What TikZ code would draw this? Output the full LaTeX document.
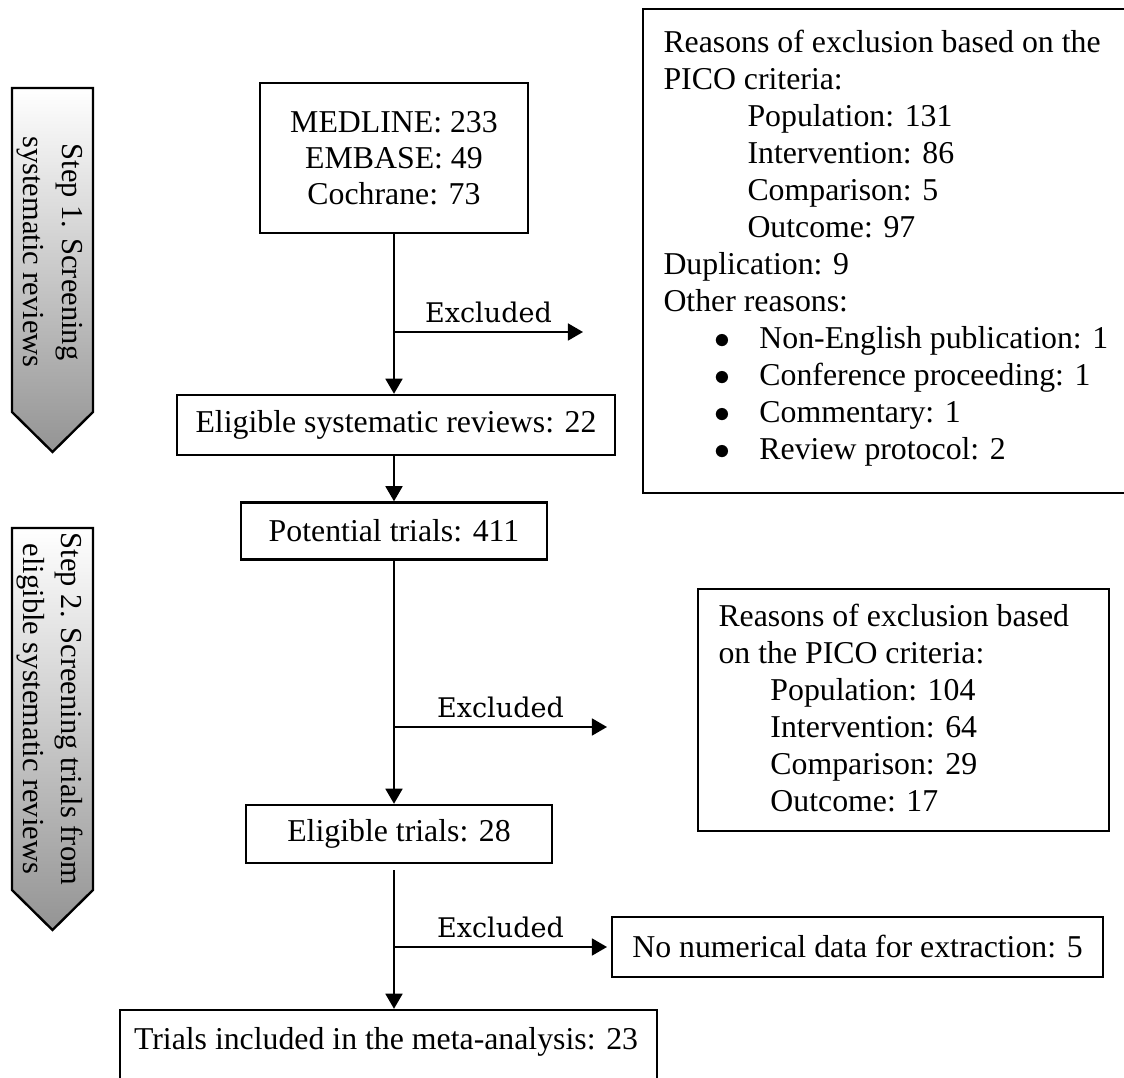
\documentclass[tikz,border=0pt]{standalone}
\usepackage{fontspec}
\setmainfont{Liberation Serif}
\newfontfamily\exfont{DejaVu Serif}
\usetikzlibrary{arrows.meta}
\def\pxu{0.3774pt}
\begin{document}
\begin{tikzpicture}[x=0.3774pt,y=-0.3774pt,
  box/.style={draw, line width=0.9pt, inner sep=0pt, align=center, font=\fontsize{12}{13.6}\selectfont},
  txt/.style={inner sep=0pt, align=left, font=\fontsize{12}{13.96}\selectfont},
  ln/.style={line width=0.75pt},
  arr/.style={line width=0.75pt, -{Triangle[length=5.7pt,width=6.4pt]}},
  exl/.style={font=\exfont\fontsize{10.2}{12}\selectfont, inner sep=3pt},
  stepshape/.style={draw, line width=0.9pt, top color=white, bottom color=black!42},
  steptxt/.style={rotate=-90, align=center, inner sep=0pt, font=\fontsize{11.5}{14.5}\selectfont}]
\useasboundingbox (0,0) rectangle (1124,1078);
\clip (0,0) rectangle (1124,1078);

% step arrows
\path[stepshape] (12,88) -- (93,88) -- (93,412) -- (52.5,452) -- (12,412) -- cycle;
\node[steptxt] (s1) at (50,252) {Step 1. Screening\\systematic reviews};
\path[stepshape] (12,528) -- (93,528) -- (93,890) -- (52.5,930) -- (12,890) -- cycle;
\node[steptxt] (s2) at (50,709) {Step 2. Screening trials from\\eligible systematic reviews};

% flow boxes
\node[box, minimum width=268*\pxu, minimum height=150*\pxu] (med) at (394,158) {MEDLINE: 233\\EMBASE: 49\\Cochrane: 73};
\node[box, minimum width=438*\pxu, minimum height=60*\pxu] (esr) at (396,425) {Eligible systematic reviews: 22};
\node[box, minimum width=306*\pxu, minimum height=57*\pxu] (pot) at (394,531) {Potential trials: 411};
\node[box, minimum width=306*\pxu, minimum height=58*\pxu] (elt) at (399,834) {Eligible trials: 28};
\node[box, minimum width=537*\pxu, minimum height=100*\pxu] (incl) at (388.5,1060) {};
\node[txt, anchor=center] (inclt) at (386,1042) {Trials included in the meta-analysis: 23};
\node[box, minimum width=491*\pxu, minimum height=60*\pxu] (nonum) at (857.5,947) {No numerical data for extraction: 5};

% reasons box 1
\node[box, anchor=north west, minimum width=500*\pxu, minimum height=484*\pxu] (r1) at (642,8) {};
\node[txt, anchor=north west] (r1t) at (663,30) {Reasons of exclusion based on the\\
PICO criteria:\\
\hspace*{31.7pt}Population: 131\\
\hspace*{31.7pt}Intervention: 86\\
\hspace*{31.7pt}Comparison: 5\\
\hspace*{31.7pt}Outcome: 97\\
Duplication: 9\\
Other reasons:\\
\hspace*{19.2pt}\makebox[17pt][l]{$\bullet$}Non-English publication: 1\\
\hspace*{19.2pt}\makebox[17pt][l]{$\bullet$}Conference proceeding: 1\\
\hspace*{19.2pt}\makebox[17pt][l]{$\bullet$}Commentary: 1\\
\hspace*{19.2pt}\makebox[17pt][l]{$\bullet$}Review protocol: 2};

% reasons box 2
\node[box, anchor=north west, minimum width=411*\pxu, minimum height=242*\pxu] (r2) at (697,588) {};
\node[txt, anchor=north west] (r2t) at (718,604) {Reasons of exclusion based\\
on the PICO criteria:\\
\hspace*{19.6pt}Population: 104\\
\hspace*{19.6pt}Intervention: 64\\
\hspace*{19.6pt}Comparison: 29\\
\hspace*{19.6pt}Outcome: 17};

% connectors
\coordinate (b1) at (394,332);
\coordinate (e1) at (583,332);
\coordinate (b2) at (394,727);
\coordinate (e2) at (607,727);
\coordinate (b3) at (394,947);
\coordinate (e3) at (607,947);

\draw[arr] (med.south -| b1) -- (esr.north -| b1);
\draw[arr] (b1) -- node[above, exl] (x1) {Excluded} (e1);
\draw[arr] (esr.south -| b1) -- (pot.north -| b1);
\draw[arr] (pot.south -| b2) -- (elt.north -| b2);
\draw[arr] (b2) -- node[above, exl] (x2) {Excluded} (e2);
\draw[arr] ([yshift=-6*\pxu]elt.south -| b3) -- (incl.north -| b3);
\draw[arr] (b3) -- node[above, exl] (x3) {Excluded} (e3);
\end{tikzpicture}
\end{document}
